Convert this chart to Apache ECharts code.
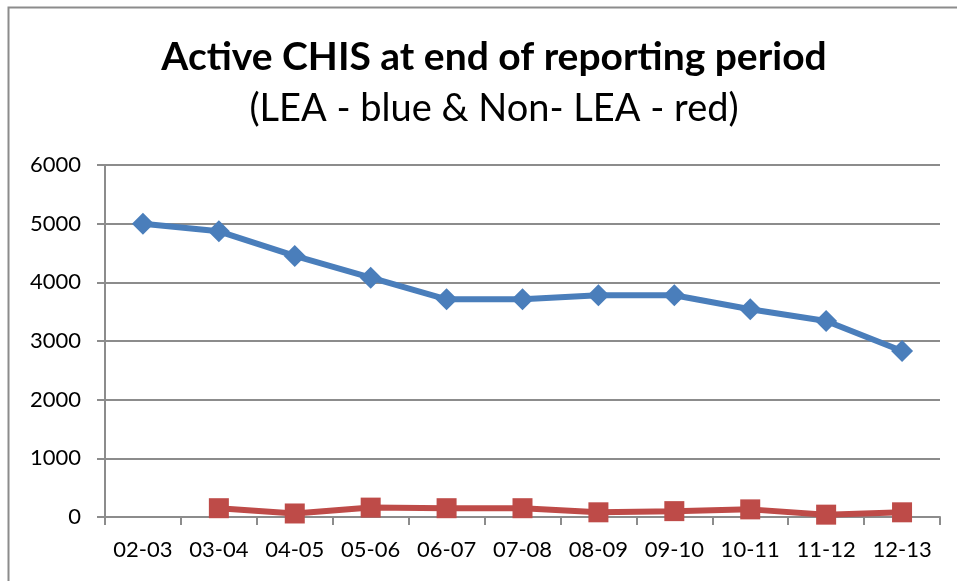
<!DOCTYPE html>
<html>
<head>
<meta charset="utf-8">
<script src="https://cdn.jsdelivr.net/npm/echarts@6/dist/echarts.min.js"></script>
<style>html,body{margin:0;padding:0;background:#fff;}#c{width:957px;height:581px;}</style>
</head>
<body>
<div id="c"></div>
<script>
var categories = ['02-03','03-04','04-05','05-06','06-07','07-08','08-09','09-10','10-11','11-12','12-13'];
var leaValues = [5000, 4870, 4450, 4080, 3710, 3710, 3780, 3780, 3540, 3340, 2830];
var nonLeaValues = [null, 150, 60, 160, 150, 150, 80, 100, 130, 40, 80];
var yTicks = [0, 1000, 2000, 3000, 4000, 5000, 6000];
var titleText = 'Active CHIS at end of reporting period';
var subtitleText = '(LEA - blue & Non- LEA - red)';

var chart = echarts.init(document.getElementById('c'), null, {renderer: 'canvas'});
var font = 'Lato, "Open Sans", sans-serif';
chart.setOption({
  animation: false,
  backgroundColor: '#fff',
  graphic: [{
    type: 'rect', shape: {x: 8.5, y: 7.5, width: 1000, height: 1000},
    style: {fill: 'none', stroke: '#8c8c8c', lineWidth: 2}, silent: true, z: -1
  }],
  title: [{
    text: titleText, left: 489, top: 33, textAlign: 'center',
    textStyle: {fontFamily: font, fontWeight: 'bold', fontSize: 39, color: '#000'}
  }, {
    text: subtitleText, left: 489, top: 85, textAlign: 'center',
    textStyle: {fontFamily: font, fontWeight: 'normal', fontSize: 38, color: '#000'}
  }],
  grid: {left: 105, right: 17, top: 165, bottom: 64, containLabel: false},
  xAxis: {
    type: 'category', data: categories, boundaryGap: true,
    axisLine: {lineStyle: {color: '#8c8c8c', width: 2}},
    axisTick: {show: true, length: 8, inside: false, lineStyle: {color: '#8c8c8c', width: 2}, alignWithLabel: false, interval: 0},
    axisLabel: {fontFamily: font, fontSize: 22, color: '#000', margin: 22, interval: 0, hideOverlap: false}
  },
  yAxis: {
    type: 'value', min: yTicks[0], max: yTicks[yTicks.length - 1], interval: 1000,
    axisLine: {show: true, lineStyle: {color: '#8c8c8c', width: 2}},
    axisTick: {show: true, length: 8, lineStyle: {color: '#8c8c8c', width: 2}},
    splitLine: {show: true, lineStyle: {color: '#8c8c8c', width: 2}},
    axisLabel: {fontFamily: font, fontSize: 22, color: '#000', margin: 24, formatter: function (v) { return String(v); }}
  },
  series: [{
    name: 'LEA', type: 'line', data: leaValues,
    symbol: 'diamond', symbolSize: 22, showSymbol: true,
    lineStyle: {color: '#4a7ebb', width: 6},
    itemStyle: {color: '#4a7ebb'}
  }, {
    name: 'Non-LEA', type: 'line', data: nonLeaValues,
    symbol: 'rect', symbolSize: 20, showSymbol: true,
    lineStyle: {color: '#be4b48', width: 6},
    itemStyle: {color: '#be4b48'}
  }]
});
</script>
</body>
</html>
